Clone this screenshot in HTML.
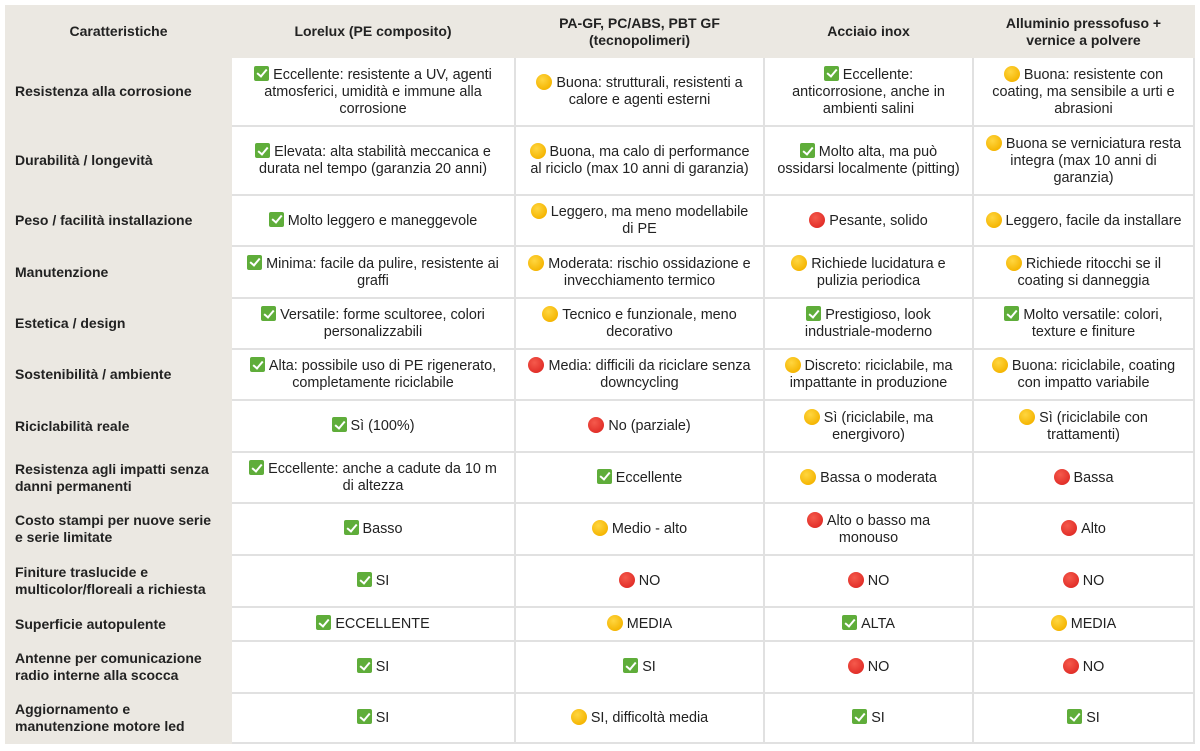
<!DOCTYPE html>
<html><head><meta charset="utf-8">
<style>
*{box-sizing:border-box}
body{margin:0;width:1200px;height:751px;background:#fff;position:relative;overflow:hidden;font-family:"Liberation Sans",sans-serif;color:#222}
.bg{position:absolute;left:5px;top:5px;width:1190px;height:739px;background:#ebe8e2}
.grid{position:absolute;left:232px;top:58px;width:963px;height:686px;background:#e1e1e1}
.c{position:absolute;background:#fff;display:flex;align-items:center;justify-content:center;text-align:center;font-size:14.4px;line-height:17px;white-space:nowrap}
.h{position:absolute;top:5px;height:53px;display:flex;align-items:center;justify-content:center;text-align:center;font-weight:bold;font-size:14px;line-height:17px;white-space:nowrap}
.l{position:absolute;left:15px;width:215px;display:flex;align-items:center;font-weight:bold;font-size:14px;line-height:17px;white-space:nowrap}
.k0{left:5px;width:227px}
.k1{left:232px;width:282px}
.k2{left:516px;width:247px}
.k3{left:765px;width:207px}
.k4{left:974px;width:219px}
.r1{top:58px;height:67px}
.r2{top:127px;height:67px}
.r3{top:196px;height:49px}
.r4{top:247px;height:50px}
.r5{top:299px;height:49px}
.r6{top:350px;height:49px}
.r7{top:401px;height:50px}
.r8{top:453px;height:49px}
.r9{top:504px;height:50px}
.r10{top:556px;height:50px}
.r11{top:608px;height:32px}
.r12{top:642px;height:50px}
.r13{top:694px;height:48px}
.ck{display:inline-block;width:15px;height:15px;background:#5fad3a;border-radius:2px;vertical-align:-2px;margin-right:4px;position:relative}
.ck::after{content:"";position:absolute;left:5px;top:1.5px;width:4px;height:8px;border:solid #fff;border-width:0 2.6px 2.6px 0;transform:rotate(40deg)}
.yc{display:inline-block;width:16px;height:16px;border-radius:50%;background:radial-gradient(circle at 40% 35%,#ffd640,#f4b400 75%,#e9a800);vertical-align:-3px;margin-right:4px}
.rc{display:inline-block;width:16px;height:16px;border-radius:50%;background:radial-gradient(circle at 40% 35%,#f55a4c,#e2302a 70%,#c9201b);vertical-align:-3px;margin-right:4px}
</style></head><body>
<div class="bg"></div>
<div class="grid"></div>

<div class="h k0">Caratteristiche</div>
<div class="h k1">Lorelux (PE composito)</div>
<div class="h k2">PA-GF, PC/ABS, PBT GF<br>(tecnopolimeri)</div>
<div class="h k3">Acciaio inox</div>
<div class="h k4">Alluminio pressofuso +<br>vernice a polvere</div>

<div class="l r1">Resistenza alla corrosione</div>
<div class="c k1 r1"><div><span class="ck"></span>Eccellente: resistente a UV, agenti<br>atmosferici, umidità e immune alla<br>corrosione</div></div>
<div class="c k2 r1"><div><span class="yc"></span>Buona: strutturali, resistenti a<br>calore e agenti esterni</div></div>
<div class="c k3 r1"><div><span class="ck"></span>Eccellente:<br>anticorrosione, anche in<br>ambienti salini</div></div>
<div class="c k4 r1"><div><span class="yc"></span>Buona: resistente con<br>coating, ma sensibile a urti e<br>abrasioni</div></div>

<div class="l r2">Durabilità / longevità</div>
<div class="c k1 r2"><div><span class="ck"></span>Elevata: alta stabilità meccanica e<br>durata nel tempo (garanzia 20 anni)</div></div>
<div class="c k2 r2"><div><span class="yc"></span>Buona, ma calo di performance<br>al riciclo (max 10 anni di garanzia)</div></div>
<div class="c k3 r2"><div><span class="ck"></span>Molto alta, ma può<br>ossidarsi localmente (pitting)</div></div>
<div class="c k4 r2"><div><span class="yc"></span>Buona se verniciatura resta<br>integra (max 10 anni di<br>garanzia)</div></div>

<div class="l r3">Peso / facilità installazione</div>
<div class="c k1 r3"><div><span class="ck"></span>Molto leggero e maneggevole</div></div>
<div class="c k2 r3"><div><span class="yc"></span>Leggero, ma meno modellabile<br>di PE</div></div>
<div class="c k3 r3"><div><span class="rc"></span>Pesante, solido</div></div>
<div class="c k4 r3"><div><span class="yc"></span>Leggero, facile da installare</div></div>

<div class="l r4">Manutenzione</div>
<div class="c k1 r4"><div><span class="ck"></span>Minima: facile da pulire, resistente ai<br>graffi</div></div>
<div class="c k2 r4"><div><span class="yc"></span>Moderata: rischio ossidazione e<br>invecchiamento termico</div></div>
<div class="c k3 r4"><div><span class="yc"></span>Richiede lucidatura e<br>pulizia periodica</div></div>
<div class="c k4 r4"><div><span class="yc"></span>Richiede ritocchi se il<br>coating si danneggia</div></div>

<div class="l r5">Estetica / design</div>
<div class="c k1 r5"><div><span class="ck"></span>Versatile: forme scultoree, colori<br>personalizzabili</div></div>
<div class="c k2 r5"><div><span class="yc"></span>Tecnico e funzionale, meno<br>decorativo</div></div>
<div class="c k3 r5"><div><span class="ck"></span>Prestigioso, look<br>industriale-moderno</div></div>
<div class="c k4 r5"><div><span class="ck"></span>Molto versatile: colori,<br>texture e finiture</div></div>

<div class="l r6">Sostenibilità / ambiente</div>
<div class="c k1 r6"><div><span class="ck"></span>Alta: possibile uso di PE rigenerato,<br>completamente riciclabile</div></div>
<div class="c k2 r6"><div><span class="rc"></span>Media: difficili da riciclare senza<br>downcycling</div></div>
<div class="c k3 r6"><div><span class="yc"></span>Discreto: riciclabile, ma<br>impattante in produzione</div></div>
<div class="c k4 r6"><div><span class="yc"></span>Buona: riciclabile, coating<br>con impatto variabile</div></div>

<div class="l r7">Riciclabilità reale</div>
<div class="c k1 r7"><div><span class="ck"></span>Sì (100%)</div></div>
<div class="c k2 r7"><div><span class="rc"></span>No (parziale)</div></div>
<div class="c k3 r7"><div><span class="yc"></span>Sì (riciclabile, ma<br>energivoro)</div></div>
<div class="c k4 r7"><div><span class="yc"></span>Sì (riciclabile con<br>trattamenti)</div></div>

<div class="l r8">Resistenza agli impatti senza<br>danni permanenti</div>
<div class="c k1 r8"><div><span class="ck"></span>Eccellente: anche a cadute da 10 m<br>di altezza</div></div>
<div class="c k2 r8"><div><span class="ck"></span>Eccellente</div></div>
<div class="c k3 r8"><div><span class="yc"></span>Bassa o moderata</div></div>
<div class="c k4 r8"><div><span class="rc"></span>Bassa</div></div>

<div class="l r9">Costo stampi per nuove serie<br>e serie limitate</div>
<div class="c k1 r9"><div><span class="ck"></span>Basso</div></div>
<div class="c k2 r9"><div><span class="yc"></span>Medio - alto</div></div>
<div class="c k3 r9"><div><span class="rc"></span>Alto o basso ma<br>monouso</div></div>
<div class="c k4 r9"><div><span class="rc"></span>Alto</div></div>

<div class="l r10">Finiture traslucide e<br>multicolor/floreali a richiesta</div>
<div class="c k1 r10"><div><span class="ck"></span>SI</div></div>
<div class="c k2 r10"><div><span class="rc"></span>NO</div></div>
<div class="c k3 r10"><div><span class="rc"></span>NO</div></div>
<div class="c k4 r10"><div><span class="rc"></span>NO</div></div>

<div class="l r11">Superficie autopulente</div>
<div class="c k1 r11"><div><span class="ck"></span>ECCELLENTE</div></div>
<div class="c k2 r11"><div><span class="yc"></span>MEDIA</div></div>
<div class="c k3 r11"><div><span class="ck"></span>ALTA</div></div>
<div class="c k4 r11"><div><span class="yc"></span>MEDIA</div></div>

<div class="l r12">Antenne per comunicazione<br>radio interne alla scocca</div>
<div class="c k1 r12"><div><span class="ck"></span>SI</div></div>
<div class="c k2 r12"><div><span class="ck"></span>SI</div></div>
<div class="c k3 r12"><div><span class="rc"></span>NO</div></div>
<div class="c k4 r12"><div><span class="rc"></span>NO</div></div>

<div class="l r13">Aggiornamento e<br>manutenzione motore led</div>
<div class="c k1 r13"><div><span class="ck"></span>SI</div></div>
<div class="c k2 r13"><div><span class="yc"></span>SI, difficoltà media</div></div>
<div class="c k3 r13"><div><span class="ck"></span>SI</div></div>
<div class="c k4 r13"><div><span class="ck"></span>SI</div></div>
</body></html>
